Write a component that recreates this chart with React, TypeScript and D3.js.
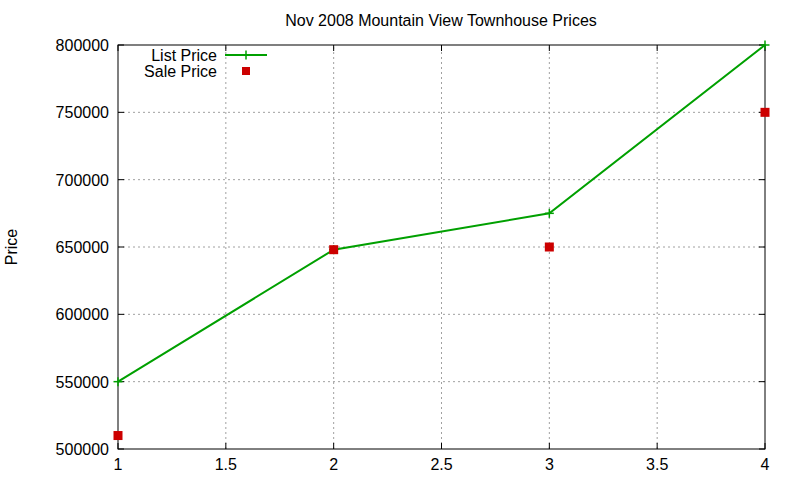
import * as d3 from 'd3'

// values
const xs = [1, 2, 3, 4]
const listPrice = [550000, 648000, 675000, 800000]
const salePrice = [510000, 648000, 650000, 750000]
const xTicks = [1, 1.5, 2, 2.5, 3, 3.5, 4]
const yTicks = [500000, 550000, 600000, 650000, 700000, 750000, 800000]

const W = 800
const H = 480
const margin = { top: 45, right: 35, bottom: 31, left: 118 }
const font = 'Liberation Sans, Arial, sans-serif'
const green = '#00a000'
const red = '#cc0000'

export default function App() {
  const x = d3.scaleLinear().domain([1, 4]).range([margin.left, W - margin.right])
  const y = d3.scaleLinear().domain([500000, 800000]).range([H - margin.bottom, margin.top])
  const line = d3.line<number>().x((_, i) => x(xs[i])).y(d => y(d))
  const [x0, x1] = x.range()
  const [y0, y1] = y.range()

  const plus = (cx: number, cy: number, key: string | number) => (
    <g key={key} stroke={green} strokeWidth={1.5}>
      <line x1={cx - 4.5} x2={cx + 4.5} y1={cy} y2={cy} />
      <line x1={cx} x2={cx} y1={cy - 4.5} y2={cy + 4.5} />
    </g>
  )

  return (
    <svg width={W} height={H} style={{ position: 'absolute', left: 0, top: 0, background: '#fff' }}
      fontFamily={font}>
      {/* grid */}
      <g stroke="#a0a0a0" strokeWidth={1} strokeDasharray="2,3">
        {xTicks.slice(1, -1).map(t => (
          <line key={t} x1={x(t)} x2={x(t)} y1={y0} y2={y1} />
        ))}
        {yTicks.slice(1, -1).map(t => (
          <line key={t} x1={x0} x2={x1} y1={y(t)} y2={y(t)} />
        ))}
      </g>
      {/* ticks, mirrored */}
      <g stroke="#000" strokeWidth={1}>
        {xTicks.map(t => (
          <g key={t}>
            <line x1={x(t)} x2={x(t)} y1={y0} y2={y0 - 6} />
            <line x1={x(t)} x2={x(t)} y1={y1} y2={y1 + 6} />
          </g>
        ))}
        {yTicks.map(t => (
          <g key={t}>
            <line x1={x0} x2={x0 + 6} y1={y(t)} y2={y(t)} />
            <line x1={x1} x2={x1 - 6} y1={y(t)} y2={y(t)} />
          </g>
        ))}
      </g>
      <rect x={x0} y={y1} width={x1 - x0} height={y0 - y1} fill="none" stroke="#000" strokeWidth={1} />

      {/* tick labels */}
      <g fontSize={16} fill="#000">
        {xTicks.map(t => (
          <text key={t} x={x(t)} y={y0 + 21} textAnchor="middle">{t}</text>
        ))}
        {yTicks.map(t => (
          <text key={t} x={x0 - 9} y={y(t) + 6} textAnchor="end">{t}</text>
        ))}
      </g>
      <text x={441} y={26} textAnchor="middle" fontSize={16}>Nov 2008 Mountain View Townhouse Prices</text>
      <text transform={`translate(17,${(y0 + y1) / 2}) rotate(-90)`} textAnchor="middle" fontSize={16}>Price</text>

      {/* series */}
      <path d={line(listPrice) || ''} fill="none" stroke={green} strokeWidth={2} />
      {listPrice.map((v, i) => plus(x(xs[i]), y(v), i))}
      {salePrice.map((v, i) => (
        <rect key={i} x={x(xs[i]) - 4.5} y={y(v) - 4.5} width={9} height={9} fill={red} />
      ))}

      {/* legend */}
      <g fontSize={16}>
        <text x={217} y={61} textAnchor="end">List Price</text>
        <line x1={225} x2={267} y1={55} y2={55} stroke={green} strokeWidth={2} />
        {plus(246, 55, 'lg')}
        <text x={217} y={77} textAnchor="end">Sale Price</text>
        <rect x={242} y={67} width={8} height={8} fill={red} />
      </g>
    </svg>
  )
}
